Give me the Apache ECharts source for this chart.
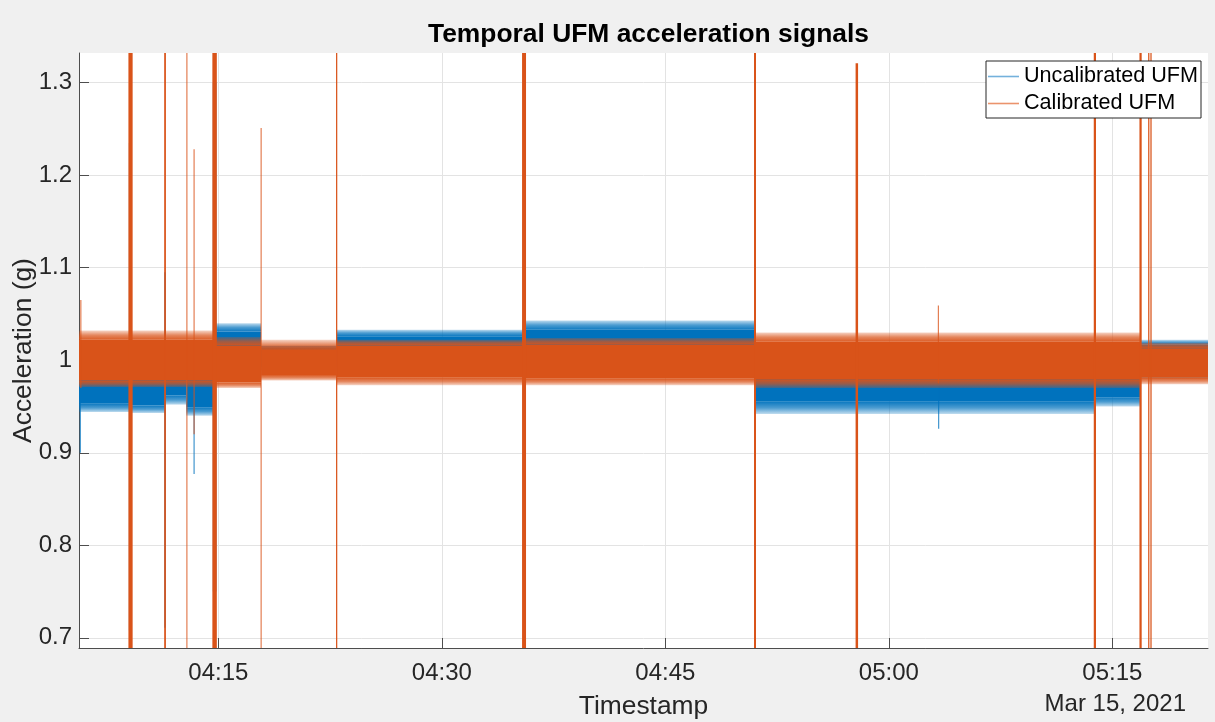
<!DOCTYPE html>
<html><head><meta charset="utf-8">
<script src="https://cdn.jsdelivr.net/npm/echarts@6/dist/echarts.min.js"></script>
<style>html,body{margin:0;padding:0;background:#f0f0f0;} #c{width:1215px;height:722px;}</style>
</head><body><div id="c"></div>
<script>
// ---------- data ----------
const titleText = 'Temporal UFM acceleration signals';
const xName = 'Timestamp';
const yName = 'Acceleration (g)';
const dateLabel = 'Mar 15, 2021';
const seriesNames = ['Uncalibrated UFM', 'Calibrated UFM'];
const xTickLabels = ['04:15', '04:30', '04:45', '05:00', '05:15'];
const yTickValues = [0.7, 0.8, 0.9, 1.0, 1.1, 1.2, 1.3];
const xRange = ['04:05:39', '05:21:25'];
const yRange = [0.689, 1.332];

// noise band segments: [start, end, lowFringe, lowCore, highCore, highFringe]
const uncalBand = [
  ['04:05:39', '04:09:05', 0.944, 0.953, 0.990, 0.995],
  ['04:09:05', '04:11:25', 0.943, 0.951, 0.990, 0.995],
  ['04:11:25', '04:12:51', 0.952, 0.962, 0.990, 0.995],
  ['04:12:51', '04:14:45', 0.940, 0.949, 0.990, 0.995],
  ['04:14:45', '04:17:52', 0.995, 1.000, 1.031, 1.040],
  ['04:17:52', '04:22:57', 0.988, 0.992, 1.014, 1.016],
  ['04:22:57', '04:35:31', 0.985, 0.990, 1.026, 1.033],
  ['04:35:31', '04:51:01', 0.985, 0.990, 1.033, 1.043],
  ['04:51:01', '05:13:50', 0.942, 0.955, 0.995, 1.000],
  ['05:13:50', '05:16:53', 0.950, 0.960, 0.995, 1.000],
  ['05:16:53', '05:21:25', 0.980, 0.985, 1.017, 1.022]
];
const calBand = [
  ['04:05:39', '04:14:45', 0.971, 0.978, 1.022, 1.032],
  ['04:14:45', '04:17:52', 0.970, 0.976, 1.016, 1.025],
  ['04:17:52', '04:22:57', 0.978, 0.984, 1.011, 1.022],
  ['04:22:57', '04:35:31', 0.973, 0.981, 1.016, 1.022],
  ['04:35:31', '04:51:01', 0.973, 0.980, 1.017, 1.024],
  ['04:51:01', '05:16:53', 0.970, 0.979, 1.020, 1.030],
  ['05:16:53', '05:21:25', 0.974, 0.981, 1.013, 1.019]
];
// spikes: [start, end, low, high]
const uncalSpikes = [
  ['04:05:42', '04:05:44', 0.900, 1.000],
  ['04:09:00', '04:09:12', 0.708, 1.235],
  ['04:11:23', '04:11:28', 0.711, 1.095],
  ['04:13:20', '04:13:23', 0.877, 1.000],
  ['04:14:38', '04:14:52', 0.750, 1.300],
  ['04:35:26', '04:35:38', 0.763, 1.149],
  ['05:03:18', '05:03:20', 0.926, 1.000],
  ['05:13:47', '05:13:51', 0.779, 1.000]
];
const calSpikes = [
  ['04:05:44', '04:05:46', 0.970, 1.065],
  ['04:08:58', '04:09:15', 0.680, 1.340],
  ['04:11:22', '04:11:29', 0.680, 1.340],
  ['04:12:51', '04:12:54', 0.680, 1.340],
  ['04:13:20', '04:13:23', 0.920, 1.228],
  ['04:14:36', '04:14:54', 0.680, 1.340],
  ['04:17:50', '04:17:54', 0.680, 1.251],
  ['04:22:54', '04:22:59', 0.680, 1.340],
  ['04:35:23', '04:35:39', 0.680, 1.340],
  ['04:50:57', '04:51:05', 0.680, 1.340],
  ['04:57:46', '04:57:56', 0.680, 1.321],
  ['05:03:17', '05:03:20', 0.975, 1.059],
  ['05:13:45', '05:13:54', 0.680, 1.340],
  ['05:16:49', '05:16:58', 0.680, 1.340],
  ['05:17:24', '05:17:29', 0.680, 1.340],
  ['05:17:33', '05:17:38', 0.680, 1.340]
];

// ---------- helpers ----------
function sec(s) { const p = s.split(':').map(Number); return p[0] * 3600 + p[1] * 60 + (p[2] || 0); }
function hhmm(v) { const h = Math.floor(v / 3600), m = Math.round((v % 3600) / 60); return String(h).padStart(2, '0') + ':' + String(m).padStart(2, '0'); }
const toRows = arr => arr.map(r => [sec(r[0]), sec(r[1])].concat(r.slice(2)));

const BLUE = '#0072BD', ORANGE = '#D95319';
const BLUE_RGB = '0,114,189', ORANGE_RGB = '217,83,25';
const FONT = '"Liberation Sans", Arial, Helvetica, sans-serif';

function grad(rgb, up) {
  return new echarts.graphic.LinearGradient(0, 0, 0, 1, up
    ? [{ offset: 0, color: 'rgba(' + rgb + ',0.25)' }, { offset: 0.5, color: 'rgba(' + rgb + ',0.7)' }, { offset: 1, color: 'rgba(' + rgb + ',0.95)' }]
    : [{ offset: 0, color: 'rgba(' + rgb + ',0.95)' }, { offset: 0.5, color: 'rgba(' + rgb + ',0.7)' }, { offset: 1, color: 'rgba(' + rgb + ',0.25)' }]);
}
function bandRender(color, rgb) {
  return function (params, api) {
    const t0 = api.value(0), t1 = api.value(1);
    const pLF = api.coord([t0, api.value(2)]), pLC = api.coord([t0, api.value(3)]);
    const pHC = api.coord([t0, api.value(4)]), pHF = api.coord([t0, api.value(5)]);
    const x0 = pLC[0], x1 = api.coord([t1, api.value(3)])[0], w = x1 - x0;
    return {
      type: 'group', children: [
        { type: 'rect', shape: { x: x0, y: pHF[1], width: w, height: pHC[1] - pHF[1] }, style: { fill: grad(rgb, true) } },
        { type: 'rect', shape: { x: x0, y: pHC[1], width: w, height: pLC[1] - pHC[1] }, style: { fill: color } },
        { type: 'rect', shape: { x: x0, y: pLC[1], width: w, height: pLF[1] - pLC[1] }, style: { fill: grad(rgb, false) } }
      ]
    };
  };
}
function spikeRender(color) {
  return function (params, api) {
    const a = api.coord([api.value(0), api.value(3)]);
    const b = api.coord([api.value(1), api.value(2)]);
    const raw = b[0] - a[0];
    const w = Math.max(raw, 1.2);
    return { type: 'rect', shape: { x: a[0], y: a[1], width: w, height: b[1] - a[1] }, style: { fill: color, opacity: raw < 1 ? 0.75 : 1 } };
  };
}

const xTicks = xTickLabels.map(sec);
const chart = echarts.init(document.getElementById('c'));
chart.setOption({
  animation: false,
  backgroundColor: '#f0f0f0',
  title: {
    text: titleText, left: 643.5, textAlign: 'center', top: 17,
    textStyle: { fontFamily: FONT, fontSize: 26.4, fontWeight: 'bold', color: '#000' }
  },
  grid: { left: 79, right: 7, top: 53, bottom: 74, show: true, backgroundColor: '#fff', borderWidth: 0, outerBoundsMode: 'none', containLabel: false },
  legend: {
    orient: 'vertical', left: 986, top: 61, padding: [2, 3, 1, 2], itemGap: 0,
    itemWidth: 31, itemHeight: 1.6,
    backgroundColor: '#fff', borderColor: '#262626', borderWidth: 1, borderRadius: 0,
    textStyle: { fontFamily: FONT, fontSize: 21.6, color: '#000', lineHeight: 27 },
    data: [
      { name: seriesNames[0], icon: 'rect', itemStyle: { color: '#74b1dc' } },
      { name: seriesNames[1], icon: 'rect', itemStyle: { color: '#eb936c' } }
    ]
  },
  xAxis: {
    type: 'value', min: sec(xRange[0]), max: sec(xRange[1]),
    name: xName, nameLocation: 'middle', nameGap: 46, nameMoveOverlap: false,
    nameTextStyle: { fontFamily: FONT, fontSize: 26.4, color: '#262626' },
    axisLine: { show: true, onZero: false, lineStyle: { color: '#4d4d4d', width: 1 } },
    axisTick: { show: true, inside: true, length: 10, customValues: xTicks, lineStyle: { color: '#4d4d4d' } },
    axisLabel: { customValues: xTicks, formatter: v => hhmm(v), fontFamily: FONT, fontSize: 24, color: '#262626', margin: 13 },
    splitLine: { show: true, lineStyle: { color: '#e3e3e3', width: 1 } }
  },
  yAxis: {
    type: 'value', min: yRange[0], max: yRange[1],
    name: yName, nameLocation: 'middle', nameGap: 42, nameMoveOverlap: false,
    nameTextStyle: { fontFamily: FONT, fontSize: 26.4, color: '#262626' },
    axisLine: { show: true, onZero: false, lineStyle: { color: '#4d4d4d', width: 1 } },
    axisTick: { show: true, inside: true, length: 10, customValues: yTickValues, lineStyle: { color: '#4d4d4d' } },
    axisLabel: { customValues: yTickValues, formatter: v => String(parseFloat(Number(v).toFixed(2))), fontFamily: FONT, fontSize: 24, color: '#262626', margin: 7 },
    splitLine: { show: true, lineStyle: { color: '#e3e3e3', width: 1 } }
  },
  graphic: [{
    type: 'text', x: 1186, y: 704,
    style: { text: dateLabel, x: 0, y: 0, align: 'right', verticalAlign: 'middle', font: '24px ' + FONT, fill: '#262626' }
  }],
  series: [
    { type: 'custom', name: seriesNames[0], clip: true, itemStyle: { color: BLUE }, renderItem: bandRender(BLUE, BLUE_RGB), encode: { x: [0, 1], y: [2, 5] }, data: toRows(uncalBand) },
    { type: 'custom', name: seriesNames[0], clip: true, itemStyle: { color: BLUE }, renderItem: spikeRender(BLUE), encode: { x: [0, 1], y: [2, 3] }, data: toRows(uncalSpikes) },
    { type: 'custom', name: seriesNames[1], clip: true, itemStyle: { color: ORANGE }, renderItem: bandRender(ORANGE, ORANGE_RGB), encode: { x: [0, 1], y: [2, 5] }, data: toRows(calBand) },
    { type: 'custom', name: seriesNames[1], clip: true, itemStyle: { color: ORANGE }, renderItem: spikeRender(ORANGE), encode: { x: [0, 1], y: [2, 3] }, data: toRows(calSpikes) }
  ]
});
</script></body></html>
